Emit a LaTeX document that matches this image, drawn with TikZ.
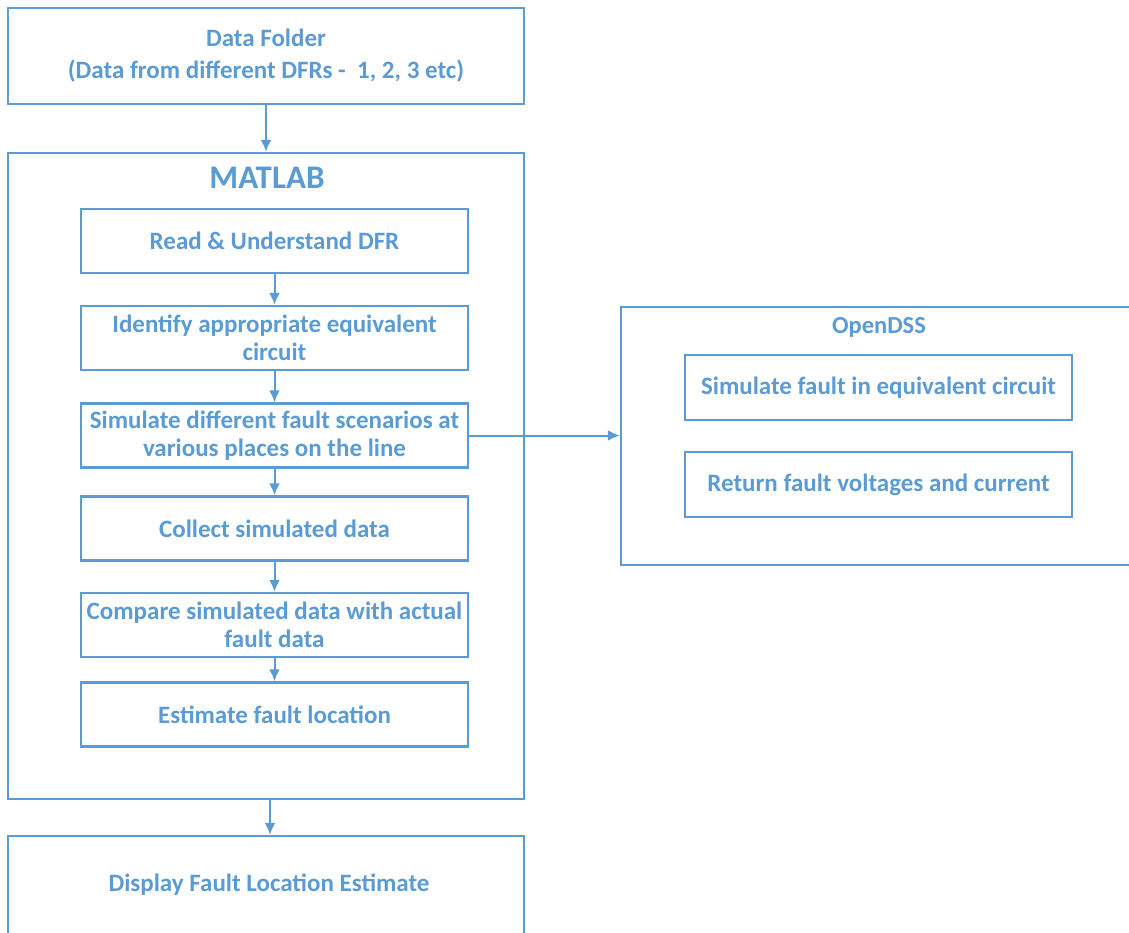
\documentclass[tikz,border=0pt]{standalone}
\usepackage{fontspec}
\setmainfont{Carlito}
\usetikzlibrary{arrows.meta}
\definecolor{blu}{HTML}{5B9BD5}
\tikzset{
  box/.style={draw=blu, line width=2.4pt, text=blu, font=\bfseries\fontsize{25}{28}\selectfont, align=center, inner sep=0pt},
  lbl/.style={text=blu, inner sep=0pt, align=center},
  arr/.style={draw=blu, line width=2pt, -{Latex[length=12pt,width=11pt]}}
}
\begin{document}
\begin{tikzpicture}[x=1pt,y=-1pt]
\clip (0,0) rectangle (1129,932);
% outer boxes
\node[box, minimum width=516pt, minimum height=96pt, font=\bfseries\fontsize{25}{32}\selectfont] (data) at (266,56) {Data Folder\\(Data from different DFRs -\ \ 1, 2, 3 etc)};
\node[box, minimum width=516pt, minimum height=646pt] (matlab) at (266,476) {};
\node[lbl, font=\bfseries\fontsize{33}{38}\selectfont] (mtitle) at (267,178) {MATLAB};
\node[box, minimum width=387pt, minimum height=64pt] (read) at (274.5,241) {Read \& Understand DFR};
\node[box, minimum width=387pt, minimum height=64pt] (ident) at (274.5,338) {Identify appropriate equivalent\\circuit};
\node[box, minimum width=387pt, minimum height=64pt] (sim) at (274.5,435.5) {Simulate different fault scenarios at\\various places on the line};
\node[box, minimum width=387pt, minimum height=64pt] (coll) at (274.5,528.5) {Collect simulated data};
\node[box, minimum width=387pt, minimum height=64pt] (comp) at (274.5,625) {Compare simulated data with actual\\fault data};
\node[box, minimum width=387pt, minimum height=64pt] (est) at (274.5,714.5) {Estimate fault location};
\node[box, minimum width=516pt, minimum height=110pt] (disp) at (266,891) {};
\node[lbl, font=\bfseries\fontsize{25}{28}\selectfont] (dtext) at (269,885) {Display Fault Location Estimate};
% OpenDSS
\node[box, minimum width=516pt, minimum height=258pt] (odss) at (879,436) {};
\node[lbl, font=\bfseries\fontsize{24.5}{28}\selectfont] (otitle) at (879,327) {OpenDSS};
\node[box, minimum width=387pt, minimum height=65pt] (sfe) at (878.5,387.5) {Simulate fault in equivalent circuit};
\node[box, minimum width=387pt, minimum height=65pt] (ret) at (878.5,484.5) {Return fault voltages and current};
% arrows
\draw[arr] (data.south -| 266,0) -- (matlab.north -| 266,0);
\draw[arr] (read) -- (ident);
\draw[arr] (ident) -- (sim);
\draw[arr] (sim) -- (coll);
\draw[arr] (coll) -- (comp);
\draw[arr] (comp) -- (est);
\draw[arr] (matlab.south -| 270,0) -- (disp.north -| 270,0);
\draw[arr] (sim.east) -- (odss.west |- sim.east);
\end{tikzpicture}
\end{document}
